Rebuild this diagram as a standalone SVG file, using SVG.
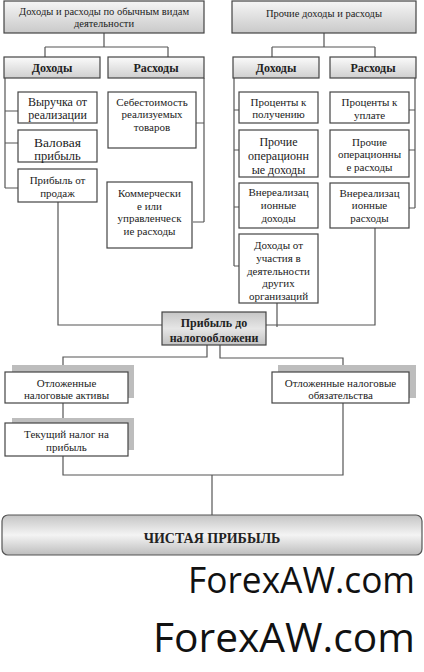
<svg xmlns="http://www.w3.org/2000/svg" width="424" height="672" viewBox="0 0 424 672">
<defs>
<linearGradient id="gTop" x1="0" y1="0" x2="0" y2="1"><stop offset="0" stop-color="#f6f6f6"/><stop offset="1" stop-color="#c9c9c9"/></linearGradient>
<linearGradient id="gHead" x1="0" y1="0" x2="0" y2="1"><stop offset="0" stop-color="#fbfbfb"/><stop offset="1" stop-color="#cfcfcf"/></linearGradient>
<linearGradient id="gPr" x1="0" y1="0" x2="0" y2="1"><stop offset="0" stop-color="#c6c6c6"/><stop offset="0.5" stop-color="#e6e6e6"/><stop offset="1" stop-color="#c2c2c2"/></linearGradient>
<linearGradient id="gNet" x1="0" y1="0" x2="0" y2="1"><stop offset="0" stop-color="#c4c4c4"/><stop offset="0.5" stop-color="#f4f4f4"/><stop offset="1" stop-color="#bdbdbd"/></linearGradient>
<style>
.b{fill:#fff;stroke:#444;stroke-width:1.2}
.t{fill:url(#gTop);stroke:#444;stroke-width:1.2}
.h{fill:url(#gHead);stroke:#444;stroke-width:1.2}
.sh{fill:#bdbdbd;stroke:none}
.ln{fill:none;stroke:#555;stroke-width:1.2}
.tx{font-family:'Liberation Serif','DejaVu Serif',serif;fill:#222;text-anchor:middle;font-size:11px}
.tx .bd{font-weight:bold;font-size:12px}
.tx .m{font-size:12px}
.tx .s{font-size:10.5px}
.wm{font-family:'Open Sans','Noto Sans',sans-serif;fill:#111}
</style>
</defs>
<g id="connectors">
<path class="ln" d="M104,33 V47 M45,47 H168 M45,47 V57 M168,47 V57"/>
<path class="ln" d="M324,33 V47 M272,47 H375 M272,47 V57 M375,47 V57"/>
<path class="ln" d="M5,78 V188 M5,111 H18 M5,143 H18 M5,188 H18"/>
<path class="ln" d="M204,78 V222 M196,123 H204 M193,222 H204"/>
<path class="ln" d="M234,78 V266 M234,110 H239 M234,150 H239 M234,207 H239 M234,266 H239"/>
<path class="ln" d="M415,78 V208 M409,110 H415 M409,150 H415 M409,208 H415"/>
<path class="ln" d="M58,202 V325 H162"/>
<path class="ln" d="M277,303 V327 M266,325 H375 V228"/>
<path class="ln" d="M207,345 V357 H63 V372"/>
<path class="ln" d="M220,345 V358 H343 V372"/>
<path class="ln" d="M63,403 V423"/>
<path class="ln" d="M63,456 V475 H343 V403"/>
<path class="ln" d="M212,475 V515"/>
</g>
<g class="tx">
<g id="n-ordinary"><rect class="t" x="4" y="1" width="200" height="32"/><text class="s" x="104" y="15">Доходы и расходы по обычным видам</text><text class="s" x="104" y="27">деятельности</text></g>
<g id="n-other"><rect class="t" x="232" y="1" width="184" height="32"/><text class="s" x="324" y="17">Прочие доходы и расходы</text></g>
<g id="n-inc1"><rect class="h" x="4" y="57" width="96" height="21"/><text class="bd" x="52" y="72">Доходы</text></g>
<g id="n-exp1"><rect class="h" x="108" y="57" width="96" height="21"/><text class="bd" x="156" y="72">Расходы</text></g>
<g id="n-inc2"><rect class="h" x="233" y="57" width="86" height="21"/><text class="bd" x="276" y="72">Доходы</text></g>
<g id="n-exp2"><rect class="h" x="330" y="57" width="86" height="21"/><text class="bd" x="373" y="72">Расходы</text></g>
<g id="n-revenue"><rect class="b" x="18" y="92" width="79" height="31"/><text class="m" x="57.5" y="106">Выручка от</text><text class="m" x="57.5" y="119">реализации</text></g>
<g id="n-gross"><rect class="b" x="18" y="130" width="79" height="32"/><text x="57.5" y="147" style="font-size:13.5px">Валовая</text><text x="57.5" y="160" style="font-size:12.5px">прибыль</text></g>
<g id="n-sales"><rect class="b" x="18" y="169" width="79" height="33"/><text x="57.5" y="184">Прибыль от</text><text x="57.5" y="197">продаж</text></g>
<g id="n-cost"><rect class="b" x="108" y="92" width="88" height="56"/><text x="152" y="106">Себестоимость</text><text x="152" y="118">реализуемых</text><text x="152" y="131">товаров</text></g>
<g id="n-comm"><rect class="b" x="107" y="182" width="85" height="66"/><text x="149.5" y="197">Коммерчески</text><text x="149.5" y="209.7">е или</text><text x="149.5" y="222.4">управленческ</text><text x="149.5" y="235.1">ие расходы</text></g>
<g id="n-int-in"><rect class="b" x="239" y="92" width="79" height="31"/><text x="278.5" y="106">Проценты к</text><text x="278.5" y="118">получению</text></g>
<g id="n-op-in"><rect class="b" x="239" y="130" width="79" height="47"/><text class="m" x="278.5" y="145.5">Прочие</text><text class="m" x="278.5" y="159.5">операционн</text><text class="m" x="278.5" y="173.5">ые доходы</text></g>
<g id="n-nonop-in"><rect class="b" x="239" y="183" width="79" height="45"/><text x="278.5" y="196">Внереализац</text><text x="278.5" y="209">ионные</text><text x="278.5" y="222">доходы</text></g>
<g id="n-part"><rect class="b" x="239" y="234" width="79" height="69"/><text x="278.5" y="248.5">Доходы от</text><text x="278.5" y="261.5">участия в</text><text x="278.5" y="274.5">деятельности</text><text x="278.5" y="287">других</text><text x="278.5" y="299.5">организаций</text></g>
<g id="n-int-out"><rect class="b" x="330" y="92" width="79" height="31"/><text x="369.5" y="106">Проценты к</text><text x="369.5" y="118.5">уплате</text></g>
<g id="n-op-out"><rect class="b" x="330" y="130" width="79" height="47"/><text x="369.5" y="145.5">Прочие</text><text x="369.5" y="158.3">операционны</text><text x="369.5" y="171.1">е расходы</text></g>
<g id="n-nonop-out"><rect class="b" x="330" y="183" width="79" height="45"/><text x="369.5" y="196.5">Внереализац</text><text x="369.5" y="209.3">ионные</text><text x="369.5" y="222.1">расходы</text></g>
<g id="n-pretax"><rect x="162" y="312" width="104" height="33" fill="url(#gPr)" stroke="#444" stroke-width="1.2"/><text class="bd" x="214" y="327">Прибыль до</text><text class="bd" x="214" y="341.5">налогообложени</text></g>
<g id="n-dta"><rect class="sh" x="12" y="365" width="122" height="33"/><rect class="b" x="5" y="372" width="123" height="31"/><text x="66.5" y="386.5">Отложенные</text><text x="66.5" y="399.3">налоговые активы</text></g>
<g id="n-curtax"><rect class="sh" x="12" y="418" width="122" height="32"/><rect class="b" x="5" y="423" width="123" height="33"/><text x="66.5" y="438">Текущий налог на</text><text x="66.5" y="451">прибыль</text></g>
<g id="n-dtl"><rect class="sh" x="278" y="365" width="138" height="33"/><rect class="b" x="272" y="372" width="137" height="31"/><text x="340.5" y="386.5">Отложенные налоговые</text><text x="340.5" y="399.3">обязательства</text></g>
<g id="n-net"><rect x="2" y="515" width="420" height="40" rx="6" fill="url(#gNet)" stroke="#555" stroke-width="1.2"/><text class="bd" x="212" y="543" style="font-size:14px">ЧИСТАЯ ПРИБЫЛЬ</text></g>
</g>
<g id="watermark" class="wm"><text x="188" y="593" style="font-size:36px" textLength="227" lengthAdjust="spacingAndGlyphs">ForexAW.com</text><text x="153" y="652" style="font-size:40px" textLength="262" lengthAdjust="spacingAndGlyphs">ForexAW.com</text></g>
</svg>
